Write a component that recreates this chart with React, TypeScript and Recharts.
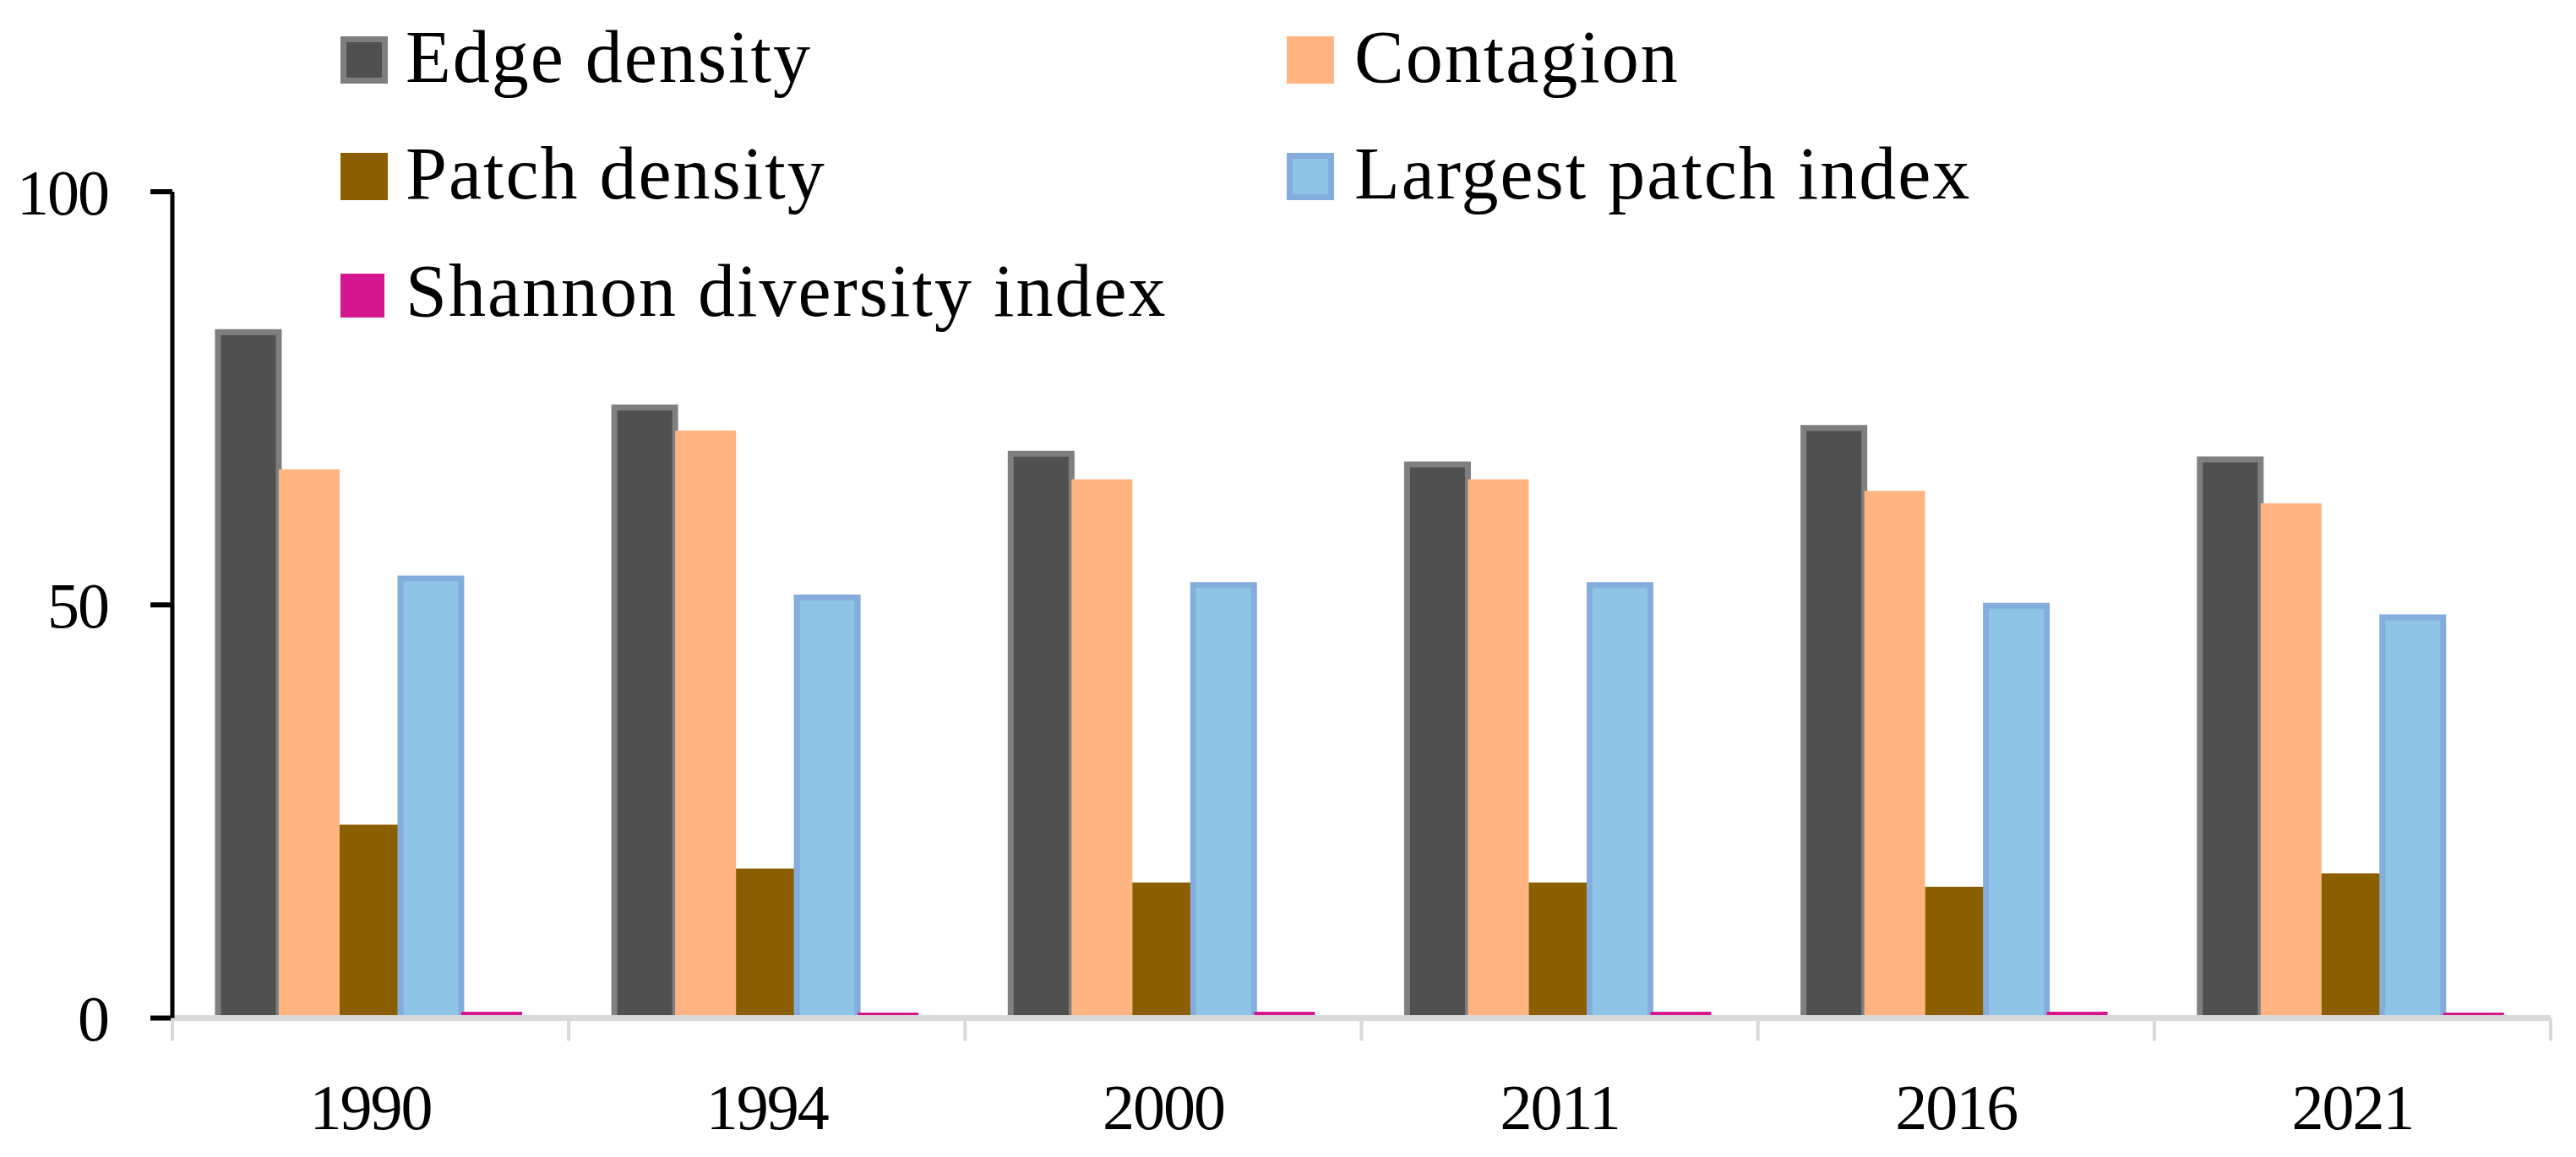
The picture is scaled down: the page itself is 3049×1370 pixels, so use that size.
import { BarChart, Bar, XAxis, YAxis, Legend, ReferenceLine } from 'recharts';

const years = ['1990', '1994', '2000', '2011', '2016', '2021'];
const edgeDensity = [83.0, 73.9, 68.3, 67.0, 71.4, 67.6];
const contagion = [66.4, 71.1, 65.2, 65.2, 63.8, 62.3];
const patchDensity = [23.4, 18.1, 16.4, 16.4, 15.9, 17.5];
const largestPatchIndex = [53.2, 50.9, 52.4, 52.4, 49.9, 48.5];
const shannonIndex = [0.77, 0.66, 0.77, 0.77, 0.77, 0.66];
const yTicks = [0, 50, 100];

const data = years.map((year, i) => ({
  year,
  edge: edgeDensity[i],
  contagion: contagion[i],
  patch: patchDensity[i],
  lpi: largestPatchIndex[i],
  shannon: shannonIndex[i],
}));

const FONT = '"Liberation Serif", serif';
const W = 3033;
const H = 1362;
const LEFT = 196;
const RIGHT = 3011;
const BAND = (RIGHT - LEFT) / years.length;

const series = [
  { key: 'edge', name: 'Edge density', fill: '#505050', stroke: '#7F7F7F' },
  { key: 'contagion', name: 'Contagion', fill: '#FFB482' },
  { key: 'patch', name: 'Patch density', fill: '#8B5E00' },
  { key: 'lpi', name: 'Largest patch index', fill: '#8EC4E6', stroke: '#84ADDE' },
  { key: 'shannon', name: 'Shannon diversity index', fill: '#D4178F' },
];

// legend grid slots: [col, row]
const slots = [[0, 0], [1, 0], [0, 1], [1, 1], [0, 2]];
const colMarkX = [395, 1515];
const colTextX = [472, 1595];
const rowBase = [89, 227, 366];

function LegendBox() {
  return (
    <svg width={W} height={400} style={{ position: 'absolute', left: 0, top: 0, overflow: 'visible' }}>
      {series.map((s, i) => {
        const [c, r] = slots[i];
        const mx = colMarkX[c];
        const size = s.key === 'shannon' ? 52 : 56;
        const my = rowBase[r] + 2 - size;
        return (
          <g key={s.key}>
            {s.stroke ? (
              <rect x={mx + 3.5} y={my + 3.5} width={size - 7} height={size - 7} fill={s.fill} stroke={s.stroke} strokeWidth={7} />
            ) : (
              <rect x={mx} y={my} width={size} height={size} fill={s.fill} />
            )}
            <text x={colTextX[c]} y={rowBase[r]} fontFamily={FONT} fontSize={88} letterSpacing={2} fill="#000">
              {s.name}
            </text>
          </g>
        );
      })}
    </svg>
  );
}

function XTick(props: any) {
  const { x, y, payload, index } = props;
  const last = index === years.length - 1;
  return (
    <g>
      <line x1={x - BAND / 2} x2={x - BAND / 2} y1={y} y2={y + 27} stroke="#D9D9D9" strokeWidth={4} />
      {last && <line x1={x + BAND / 2} x2={x + BAND / 2} y1={y} y2={y + 27} stroke="#D9D9D9" strokeWidth={4} />}
      <text x={x} y={y + 131.5} textAnchor="middle" fontFamily={FONT} fontSize={76} letterSpacing={-2} fill="#000">
        {payload.value}
      </text>
    </g>
  );
}

export default function App() {
  return (
    <div style={{ position: 'relative', width: W, height: H }}>
      <BarChart
        width={W}
        height={H}
        data={data}
        margin={{ top: 219, right: W - RIGHT, bottom: 14.5, left: 0 }}
        barCategoryGap="11.5%"
        barGap={0}
      >
        <XAxis
          dataKey="year"
          height={150}
          axisLine={false}
          tickLine={false}
          tickSize={0}
          tickMargin={0}
          tick={<XTick />}
          interval={0}
        />
        <YAxis
          domain={[0, 100]}
          ticks={yTicks}
          width={LEFT}
          tickSize={26}
          tickMargin={50}
          axisLine={{ stroke: '#000', strokeWidth: 5 }}
          tickLine={{ stroke: '#000', strokeWidth: 6 }}
          tick={{ fill: '#000', fontSize: 76, fontFamily: FONT, letterSpacing: -2 }}
        />
        <Legend
          content={() => <LegendBox />}
          wrapperStyle={{ top: 0, left: 0, width: W, height: 0, overflow: 'visible' }}
        />
        {series.map((s) => (
          <Bar
            key={s.key}
            dataKey={s.key}
            name={s.name}
            fill={s.fill}
            stroke={s.stroke}
            strokeWidth={s.stroke ? 7 : 0}
            isAnimationActive={false}
          />
        ))}
        <ReferenceLine y={0} stroke="#D9D9D9" strokeWidth={7} />
      </BarChart>
    </div>
  );
}
